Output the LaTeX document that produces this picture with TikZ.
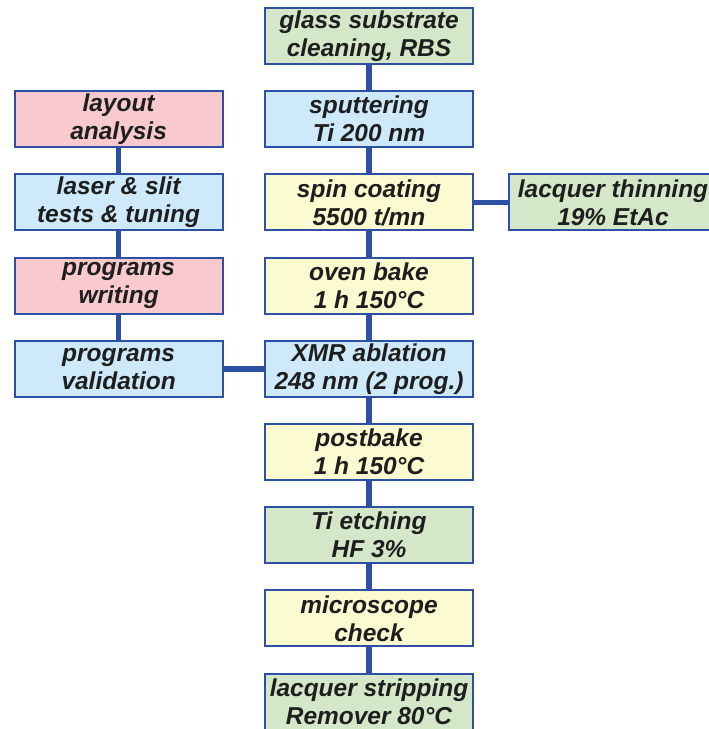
\documentclass[tikz,border=0pt]{standalone}
\usepackage{fontspec}
\setmainfont{Liberation Sans}
\usepackage{xcolor}
\definecolor{edgeblue}{RGB}{45,80,165}
\definecolor{boxgreen}{RGB}{212,231,200}
\definecolor{boxblue}{RGB}{205,233,250}
\definecolor{boxpink}{RGB}{248,202,205}
\definecolor{boxyellow}{RGB}{252,250,208}
\definecolor{txt}{RGB}{30,30,30}

\begin{document}
\begin{tikzpicture}[node distance=2.08cm, auto]

			% Styles
			\tikzstyle{block} = [rectangle, draw=edgeblue, line width=1.4pt, minimum height=1.4cm, minimum width=5.2cm, inner sep=0pt, align=center, text=txt, font=\bfseries\itshape\fontsize{17.4}{19.9}\selectfont]
			\tikzstyle{link} = [-, draw=edgeblue, line width=4pt]

			\useasboundingbox (0,0) rectangle (17.7,-18.225);

			% Nodes (main column)
			\node[block, fill=boxgreen] (cleaning) at (9.225,-0.9) {glass substrate \\ cleaning, RBS};
			\node[block, fill=boxblue, below of=cleaning] (sputtering) {sputtering \\ Ti 200 nm};
			\node[block, fill=boxyellow, below of=sputtering] (spincoat) {spin coating \\ 5500 t/mn};
			\node[block, fill=boxyellow, below of=spincoat] (ovenbake) {oven bake \\ 1 h 150°C};
			\node[block, fill=boxblue, below of=ovenbake] (ablation) {XMR ablation \\ 248 nm (2 prog.)};
			\node[block, fill=boxyellow, below of=ablation] (postbake) {postbake \\ 1 h 150°C};
			\node[block, fill=boxgreen, below of=postbake] (etching) {Ti etching \\ HF 3\%};
			\node[block, fill=boxyellow, below of=etching] (check) {microscope \\ check};
			\node[block, fill=boxgreen, below of=check] (stripping) {lacquer stripping \\ Remover 80°C};

			% Nodes (side boxes)
			\node[block, fill=boxgreen, right of=spincoat, node distance=6.1cm] (thinning) {lacquer thinning \\ 19\% EtAc};
			\node[block, fill=boxblue, left of=ablation, node distance=6.26cm] (validation) {programs \\ validation};
			\node[block, fill=boxpink, above of=validation] (writing) {programs \\ writing};
			\node[block, fill=boxblue, above of=writing] (tuning) {laser \& slit \\ tests \& tuning};
			\node[block, fill=boxpink, above of=tuning] (layout) {layout \\ analysis};

			% Links (main flow)
			\draw[link] (cleaning) -- (sputtering);
			\draw[link] (sputtering) -- (spincoat);
			\draw[link] (spincoat) -- (ovenbake);
			\draw[link] (ovenbake) -- (ablation);
			\draw[link] (ablation) -- (postbake);
			\draw[link] (postbake) -- (etching);
			\draw[link] (etching) -- (check);
			\draw[link] (check) -- (stripping);

			% Links (side branches)
			\draw[link] (spincoat) -- (thinning);
			\draw[link] (layout) -- (tuning);
			\draw[link] (tuning) -- (writing);
			\draw[link] (writing) -- (validation);
			\draw[link] (validation) -- (ablation);

		\end{tikzpicture}
\end{document}
